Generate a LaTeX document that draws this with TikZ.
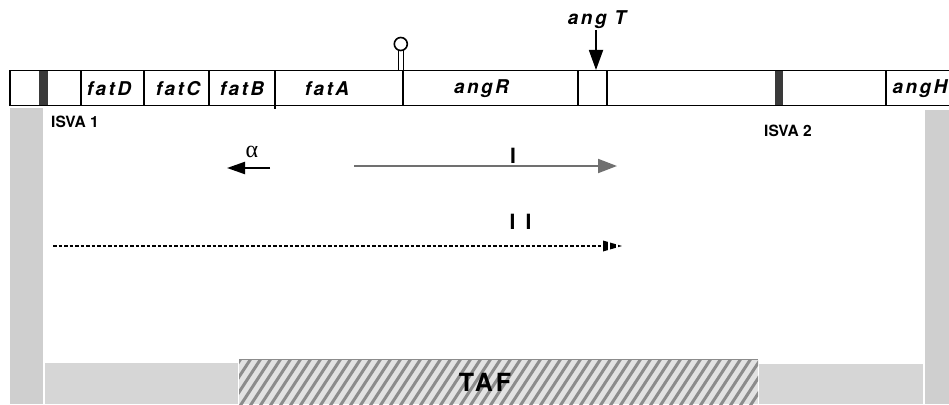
\documentclass[tikz,border=0pt]{standalone}
\usepackage{fontspec}
\setmainfont{TeX Gyre Heros}
\newfontfamily\greekfont{Liberation Serif}
\usetikzlibrary{arrows.meta}
\definecolor{isgray}{HTML}{3A3A3A}
\definecolor{colgray}{HTML}{CFCFCF}
\definecolor{stripgray}{HTML}{D6D6D6}
\definecolor{hatchbg}{HTML}{E2E2E2}
\definecolor{hatchline}{HTML}{8C8C8C}
\definecolor{txgray}{HTML}{707070}
\tikzset{
  bar/.style={line width=1.8pt, line cap=rect},
  genelabel/.style={font=\fontsize{19}{22}\selectfont\bfseries\itshape\addfontfeatures{LetterSpace=13}, inner sep=0pt},
  islabel/.style={font=\fontsize{15.5}{18}\selectfont\bfseries, inner sep=0pt},
  romanlabel/.style={font=\fontsize{21}{24}\selectfont\bfseries, inner sep=0pt},
}
\begin{document}
\begin{tikzpicture}[x=1pt,y=-1pt]
\useasboundingbox (0,0) rectangle (949,404);

% grey side columns and bottom strips
\fill[colgray] (10,108) rectangle (43,404);
\fill[colgray] (925,110) rectangle (949,404);
\fill[stripgray] (45,363) rectangle (238,404);
\fill[stripgray] (759,364) rectangle (923,404);

% hatched TAF region
\begin{scope}
  \clip (239,359) rectangle (758,404);
  \fill[hatchbg] (239,359) rectangle (758,404);
  \foreach \x in {190,200,...,780}
    \draw[hatchline, line width=3pt] (\x,406) -- ++(32,-49);
  \draw[hatchline, line width=1.2pt] (239,359.5) -- (758,359.5);
\end{scope}
\node[font=\fontsize{25}{28}\selectfont\bfseries\addfontfeatures{LetterSpace=12}, inner sep=0pt] (taf) at (485,382) {TAF};

% IS elements inside the gene bar
\fill[isgray] (39,70) rectangle (48,106);
\fill[isgray] (775,70) rectangle (783,106);

% gene bar outline and boundaries
\draw[bar] (10,70.5) -- (955,70.5);
\draw[bar] (10,105.5) -- (955,105.5);
\foreach \x in {10,81,144,209,403,578,607,886}
  \draw[bar] (\x,70.5) -- (\x,105.5);
\draw[bar] (275,70.5) -- (275,108);

% terminator hairpin
\draw[line width=1.4pt, fill=white] (398.5,70.5) rectangle (403.5,50.5);
\draw[line width=1.6pt, fill=white] (400.8,44) circle (6.5);

% gene names
\node[genelabel] (fatD) at (109,89) {fatD};
\node[genelabel] (fatC) at (178,89) {fatC};
\node[genelabel] (fatB) at (242,89) {fatB};
\node[genelabel] (fatA) at (327,89) {fatA};
\node[genelabel] (angR) at (481.5,89) {angR};
\node[genelabel] (angH) at (920,89) {angH};
\node[genelabel] (angT) at (597,20) {ang T};

% angT insertion marker
\coordinate (tS) at (596,30);
\coordinate (tE) at (596,70);
\draw[line width=1.8pt, -{Triangle[length=20pt,width=14pt]}] (tS) -- (tE);

% IS labels
\node[islabel] (isva1) at (75,122) {ISVA 1};
\node[islabel] (isva2) at (788,131) {ISVA 2};

% alpha transcript
\coordinate (aS) at (270,168);
\coordinate (aE) at (227,168);
\draw[line width=2.2pt, -{Triangle[length=18pt,width=12pt]}] (aS) -- (aE);
\node[font=\fontsize{24}{26}\greekfont, inner sep=0pt] (alpha) at (252,152) {α};

% transcript I
\coordinate (iS) at (354,166);
\coordinate (iE) at (617,166);
\draw[txgray, line width=2pt, -{Triangle[length=19pt,width=14pt]}] (iS) -- (iE);
\node[romanlabel] (lab1) at (513,156) {I};

% transcript II (dashed)
\coordinate (iiS) at (53,246);
\coordinate (iiE) at (604,246);
\draw[line width=1.6pt, dash pattern=on 3.5pt off 2pt] (iiS) -- (iiE);
\begin{scope}
  \clip (603,240.5) -- (622,246) -- (603,251.5) -- cycle;
  \fill (603,238) rectangle (608,254);
  \fill (610,238) rectangle (615.5,254);
  \fill (617.5,238) rectangle (623,254);
\end{scope}
\node[romanlabel] (lab2) at (520.5,222) {I\hspace{10pt}I};
\end{tikzpicture}
\end{document}
